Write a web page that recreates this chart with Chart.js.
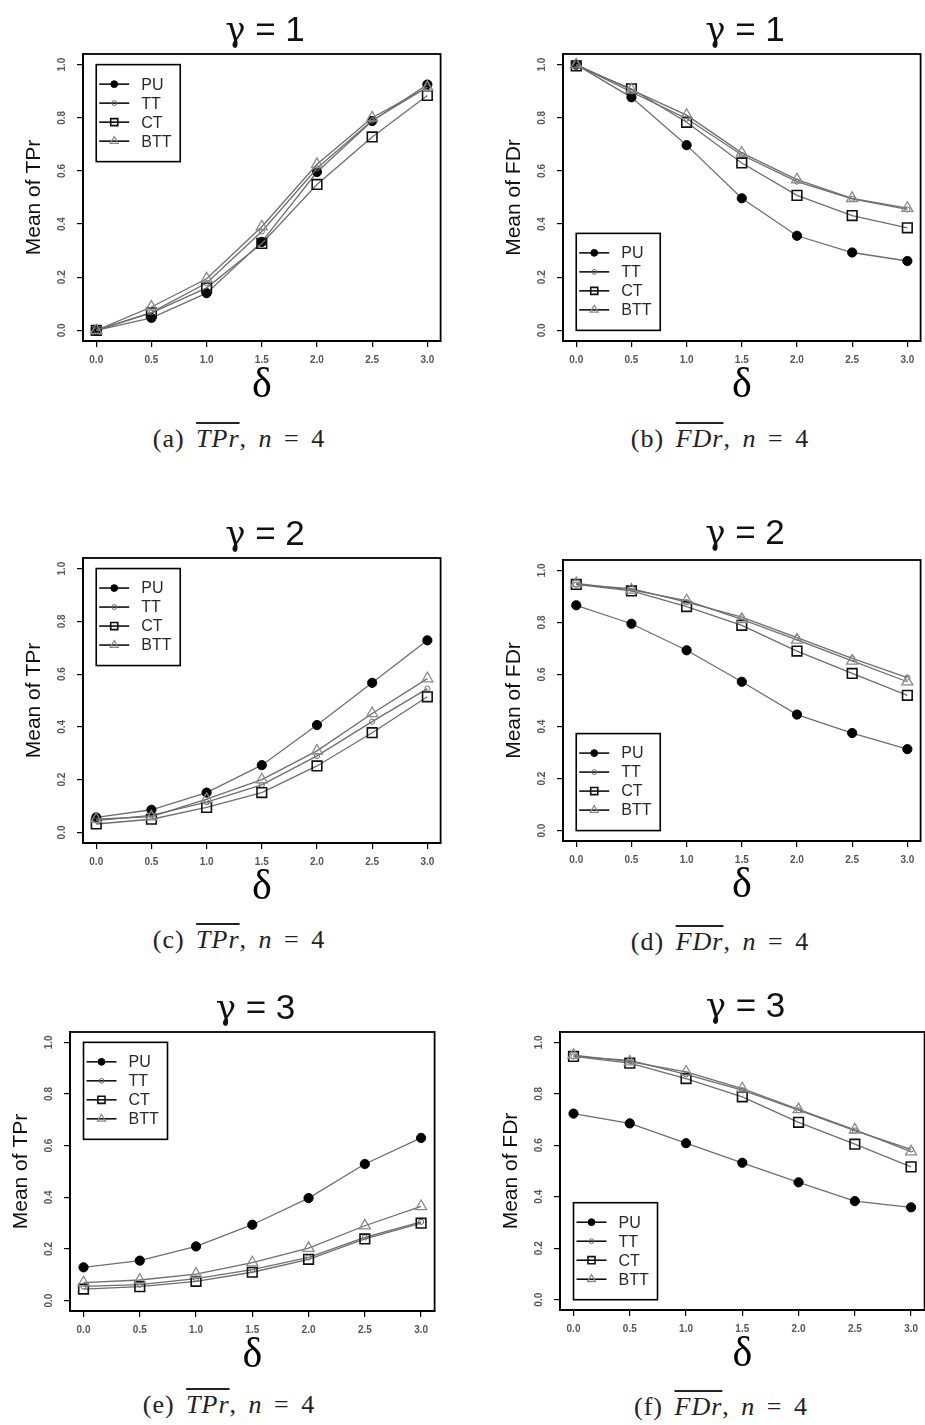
<!DOCTYPE html>
<html>
<head>
<meta charset="utf-8">
<title>Mean TPr / FDr by delta</title>
<script src="https://cdn.jsdelivr.net/npm/chart.js@4.4.1/dist/chart.umd.min.js"></script>
<style>
  html, body { margin: 0; padding: 0; width: 925px; height: 1425px; overflow: hidden; background: #fff; }
  canvas { position: absolute; }
  .title {
    position: absolute; transform: translateX(-50%); white-space: nowrap;
    font-family: 'Liberation Sans', Arial, sans-serif; font-size: 35px; line-height: 34px; color: #111;
  }
  .title .g { font-family: 'DejaVu Serif', 'Liberation Serif', serif; font-size: 34px; }
  .caption {
    position: absolute; transform: translateX(-50%); white-space: nowrap;
    font-family: 'Liberation Serif', 'Times New Roman', serif; font-size: 26px; line-height: 26px;
    color: #222; letter-spacing: 1px; word-spacing: 4px;
  }
  .caption .bar { font-style: italic; text-decoration: overline; }
  .caption i { font-style: italic; }
</style>
</head>
<body>
<script>
const deltas = [0, 0.5, 1, 1.5, 2, 2.5, 3];
const xTickValues = [0, 0.5, 1, 1.5, 2, 2.5, 3];
const yTickValues = [0, 0.2, 0.4, 0.6, 0.8, 1];
const methods = ['PU', 'TT', 'CT', 'BTT'];

// mean TPr and FDr, gamma = 1
const tprG1PU  = [0.000, 0.047, 0.140, 0.333, 0.596, 0.788, 0.925];
const tprG1TT  = [0.000, 0.068, 0.178, 0.372, 0.610, 0.790, 0.915];
const tprG1CT  = [0.000, 0.066, 0.160, 0.327, 0.549, 0.728, 0.884];
const tprG1BTT = [0.000, 0.088, 0.194, 0.390, 0.625, 0.800, 0.915];
const fdrG1PU  = [1.000, 0.877, 0.697, 0.497, 0.356, 0.293, 0.261];
const fdrG1TT  = [1.000, 0.897, 0.797, 0.660, 0.560, 0.495, 0.455];
const fdrG1CT  = [0.995, 0.909, 0.783, 0.630, 0.508, 0.432, 0.386];
const fdrG1BTT = [1.000, 0.905, 0.810, 0.668, 0.567, 0.497, 0.460];

// gamma = 2
const tprG2PU  = [0.057, 0.086, 0.151, 0.255, 0.407, 0.567, 0.728];
const tprG2TT  = [0.045, 0.065, 0.115, 0.180, 0.290, 0.420, 0.545];
const tprG2CT  = [0.032, 0.050, 0.095, 0.151, 0.252, 0.378, 0.514];
const tprG2BTT = [0.050, 0.060, 0.126, 0.200, 0.309, 0.451, 0.583];
const fdrG2PU  = [0.866, 0.795, 0.693, 0.572, 0.446, 0.375, 0.313];
const fdrG2TT  = [0.945, 0.930, 0.878, 0.820, 0.742, 0.662, 0.588];
const fdrG2CT  = [0.946, 0.921, 0.861, 0.789, 0.690, 0.604, 0.520];
const fdrG2BTT = [0.950, 0.925, 0.884, 0.812, 0.733, 0.652, 0.572];

// gamma = 3
const tprG3PU  = [0.129, 0.155, 0.210, 0.294, 0.397, 0.529, 0.630];
const tprG3TT  = [0.055, 0.062, 0.085, 0.120, 0.168, 0.245, 0.305];
const tprG3CT  = [0.045, 0.054, 0.075, 0.110, 0.160, 0.239, 0.300];
const tprG3BTT = [0.070, 0.080, 0.103, 0.147, 0.203, 0.290, 0.365];
const fdrG3PU  = [0.723, 0.685, 0.608, 0.532, 0.456, 0.383, 0.359];
const fdrG3TT  = [0.945, 0.930, 0.875, 0.814, 0.736, 0.657, 0.584];
const fdrG3CT  = [0.945, 0.919, 0.859, 0.788, 0.689, 0.604, 0.516];
const fdrG3BTT = [0.950, 0.925, 0.885, 0.820, 0.739, 0.660, 0.575];

// marker look per method (plot size / legend size)
const markerStyles = {
  PU:  { shape: 'circle',   r: 4.6, lr: 3.4, fill: '#000', stroke: '#000', lw: 1 },
  TT:  { shape: 'circle',   r: 2.6, lr: 2.4, fill: 'rgba(0,0,0,0)', stroke: '#6a6a6a', lw: 1 },
  CT:  { shape: 'rect',     r: 6.8, lr: 5.0, fill: 'rgba(0,0,0,0)', stroke: '#111', lw: 1.6 },
  BTT: { shape: 'triangle', r: 6.4, lr: 4.6, fill: 'rgba(0,0,0,0)', stroke: '#8a8a8a', lw: 1.3 },
};

// box = [left, top, right, bottom] of each plot frame
const panels = [
  { tag: 'a', gamma: 1, rate: 'TPr', ylab: 'Mean of TPr', corner: 'top',
    series: [tprG1PU, tprG1TT, tprG1CT, tprG1BTT], box: [83, 54, 447, 341], titleY: 29, cap: [239, 442] },
  { tag: 'b', gamma: 1, rate: 'FDr', ylab: 'Mean of FDr', corner: 'bottom',
    series: [fdrG1PU, fdrG1TT, fdrG1CT, fdrG1BTT], box: [563, 54, 927, 341], titleY: 29, cap: [720, 442] },
  { tag: 'c', gamma: 2, rate: 'TPr', ylab: 'Mean of TPr', corner: 'top',
    series: [tprG2PU, tprG2TT, tprG2CT, tprG2BTT], box: [83, 558, 447, 843], titleY: 533, cap: [239, 943] },
  { tag: 'd', gamma: 2, rate: 'FDr', ylab: 'Mean of FDr', corner: 'bottom',
    series: [fdrG2PU, fdrG2TT, fdrG2CT, fdrG2BTT], box: [563, 560, 927, 841], titleY: 532, cap: [720, 945] },
  { tag: 'e', gamma: 3, rate: 'TPr', ylab: 'Mean of TPr', corner: 'top',
    series: [tprG3PU, tprG3TT, tprG3CT, tprG3BTT], box: [70, 1032, 441, 1311], titleY: 1007, cap: [229, 1408] },
  { tag: 'f', gamma: 3, rate: 'FDr', ylab: 'Mean of FDr', corner: 'bottom',
    series: [fdrG3PU, fdrG3TT, fdrG3CT, fdrG3BTT], box: [560, 1032, 931, 1310], titleY: 1005, cap: [721, 1410] },
];

const Y_AXIS_W = 72;
const X_AXIS_H = 70;
const PAD_TOP = 20;

function drawMarker(ctx, st, x, y, r) {
  ctx.beginPath();
  if (st.shape === 'circle') {
    ctx.arc(x, y, r, 0, Math.PI * 2);
  } else if (st.shape === 'rect') {
    const s = r * Math.SQRT1_2;
    ctx.rect(x - s, y - s, 2 * s, 2 * s);
  } else {
    for (let k = 0; k < 3; k++) {
      const a = k * 2 * Math.PI / 3;
      const px = x + Math.sin(a) * r, py = y - Math.cos(a) * r;
      k === 0 ? ctx.moveTo(px, py) : ctx.lineTo(px, py);
    }
    ctx.closePath();
  }
  ctx.fillStyle = st.fill;
  ctx.fill();
  ctx.lineWidth = st.lw;
  ctx.strokeStyle = st.stroke;
  ctx.stroke();
}

// frame round the plotting region
const frame = {
  id: 'frame',
  afterDraw(chart) {
    const { ctx, chartArea: a } = chart;
    ctx.save();
    ctx.strokeStyle = '#000';
    ctx.lineWidth = 1.8;
    ctx.strokeRect(a.left, a.top, a.right - a.left, a.bottom - a.top);
    ctx.restore();
  }
};

// boxed legend anchored at (0, 1) or (0, 0) in data units
const boxLegend = {
  id: 'boxLegend',
  afterDraw(chart, args, opts) {
    const { ctx, scales: { x, y } } = chart;
    const w = 84, h = 97;
    const left = x.getPixelForValue(0);
    const top = opts.corner === 'top' ? y.getPixelForValue(1) : y.getPixelForValue(0) - h;
    ctx.save();
    ctx.fillStyle = '#fff';
    ctx.fillRect(left, top, w, h);
    ctx.strokeStyle = '#000';
    ctx.lineWidth = 1.6;
    ctx.strokeRect(left, top, w, h);
    ctx.font = '16px "Liberation Sans", Arial, sans-serif';
    ctx.textBaseline = 'middle';
    methods.forEach((m, i) => {
      const cy = top + 19.5 + i * 19;
      ctx.beginPath();
      ctx.moveTo(left + 3, cy);
      ctx.lineTo(left + 33, cy);
      ctx.strokeStyle = '#000';
      ctx.lineWidth = 1.5;
      ctx.stroke();
      const st = markerStyles[m];
      drawMarker(ctx, st, left + 18, cy, st.lr);
      ctx.fillStyle = '#2a2a2a';
      ctx.fillText(m, left + 45, cy + 1);
    });
    ctx.restore();
  }
};

function axisTicks(values) {
  return scale => { scale.ticks = values.map(v => ({ value: v })); };
}

const tickFont = { family: '"Liberation Sans", Arial, sans-serif', size: 10, weight: 'bold' };
const tickGrid = { drawOnChartArea: false, drawTicks: true, tickLength: 6, color: '#000', lineWidth: 1.2 };
const axisBorder = { display: true, color: '#000', width: 1.8 };

panels.forEach(p => {
  const [l, t, r, b] = p.box;
  const x0 = l - Y_AXIS_W, y0 = t - PAD_TOP;
  const w = r + 2 - x0, h = b + X_AXIS_H - y0;

  const canvas = document.createElement('canvas');
  canvas.width = w;
  canvas.height = h;
  canvas.style.left = x0 + 'px';
  canvas.style.top = y0 + 'px';
  canvas.style.width = w + 'px';
  canvas.style.height = h + 'px';
  document.body.appendChild(canvas);

  const title = document.createElement('div');
  title.className = 'title';
  title.innerHTML = '<span class="g">γ</span> = ' + p.gamma;
  title.style.left = ((l + r) / 2) + 'px';
  title.style.top = (p.titleY - 17) + 'px';
  document.body.appendChild(title);

  const cap = document.createElement('div');
  cap.className = 'caption';
  cap.innerHTML = '(' + p.tag + ') <span class="bar">' + p.rate + '</span>, <i>n</i> = 4';
  cap.style.left = p.cap[0] + 'px';
  cap.style.top = (p.cap[1] - 16) + 'px';
  document.body.appendChild(cap);

  const datasets = methods.map((m, i) => {
    const st = markerStyles[m];
    return {
      label: m,
      data: deltas.map((d, k) => ({ x: d, y: p.series[i][k] })),
      borderColor: '#6e6e6e',
      borderWidth: 1.3,
      tension: 0,
      fill: false,
      pointStyle: st.shape,
      pointRadius: st.r,
      pointBackgroundColor: st.fill,
      pointBorderColor: st.stroke,
      pointBorderWidth: st.lw,
      order: methods.length - i,
      clip: false,
    };
  });

  new Chart(canvas.getContext('2d'), {
    type: 'line',
    data: { datasets },
    options: {
      responsive: false,
      animation: false,
      events: [],
      layout: { padding: { top: PAD_TOP, right: 2, left: 0, bottom: 0 } },
      plugins: {
        legend: { display: false },
        tooltip: { enabled: false },
        boxLegend: { corner: p.corner },
      },
      scales: {
        x: {
          type: 'linear',
          min: -0.12,
          max: 3.12,
          afterBuildTicks: axisTicks(xTickValues),
          afterFit: s => { s.height = X_AXIS_H; },
          ticks: { callback: v => v.toFixed(1), font: tickFont, color: '#555', padding: 7, maxRotation: 0, autoSkip: false },
          grid: tickGrid,
          border: axisBorder,
          title: {
            display: true, text: 'δ', color: '#000',
            font: { family: '"Liberation Serif", "Times New Roman", serif', size: 42 },
            padding: { top: 0, bottom: 0 },
          },
        },
        y: {
          type: 'linear',
          min: -0.04,
          max: 1.04,
          afterBuildTicks: axisTicks(yTickValues),
          afterFit: s => { s.width = Y_AXIS_W; },
          ticks: {
            callback: v => v.toFixed(1), font: tickFont, color: '#555', padding: 8,
            minRotation: 90, maxRotation: 90, crossAlign: 'center', autoSkip: false,
          },
          grid: tickGrid,
          border: axisBorder,
          title: {
            display: true, text: p.ylab, color: '#111',
            font: { family: '"Liberation Sans", Arial, sans-serif', size: 21 },
            padding: { top: 11, bottom: 0 },
          },
        },
      },
    },
    plugins: [frame, boxLegend],
  });
});
</script>
</body>
</html>
